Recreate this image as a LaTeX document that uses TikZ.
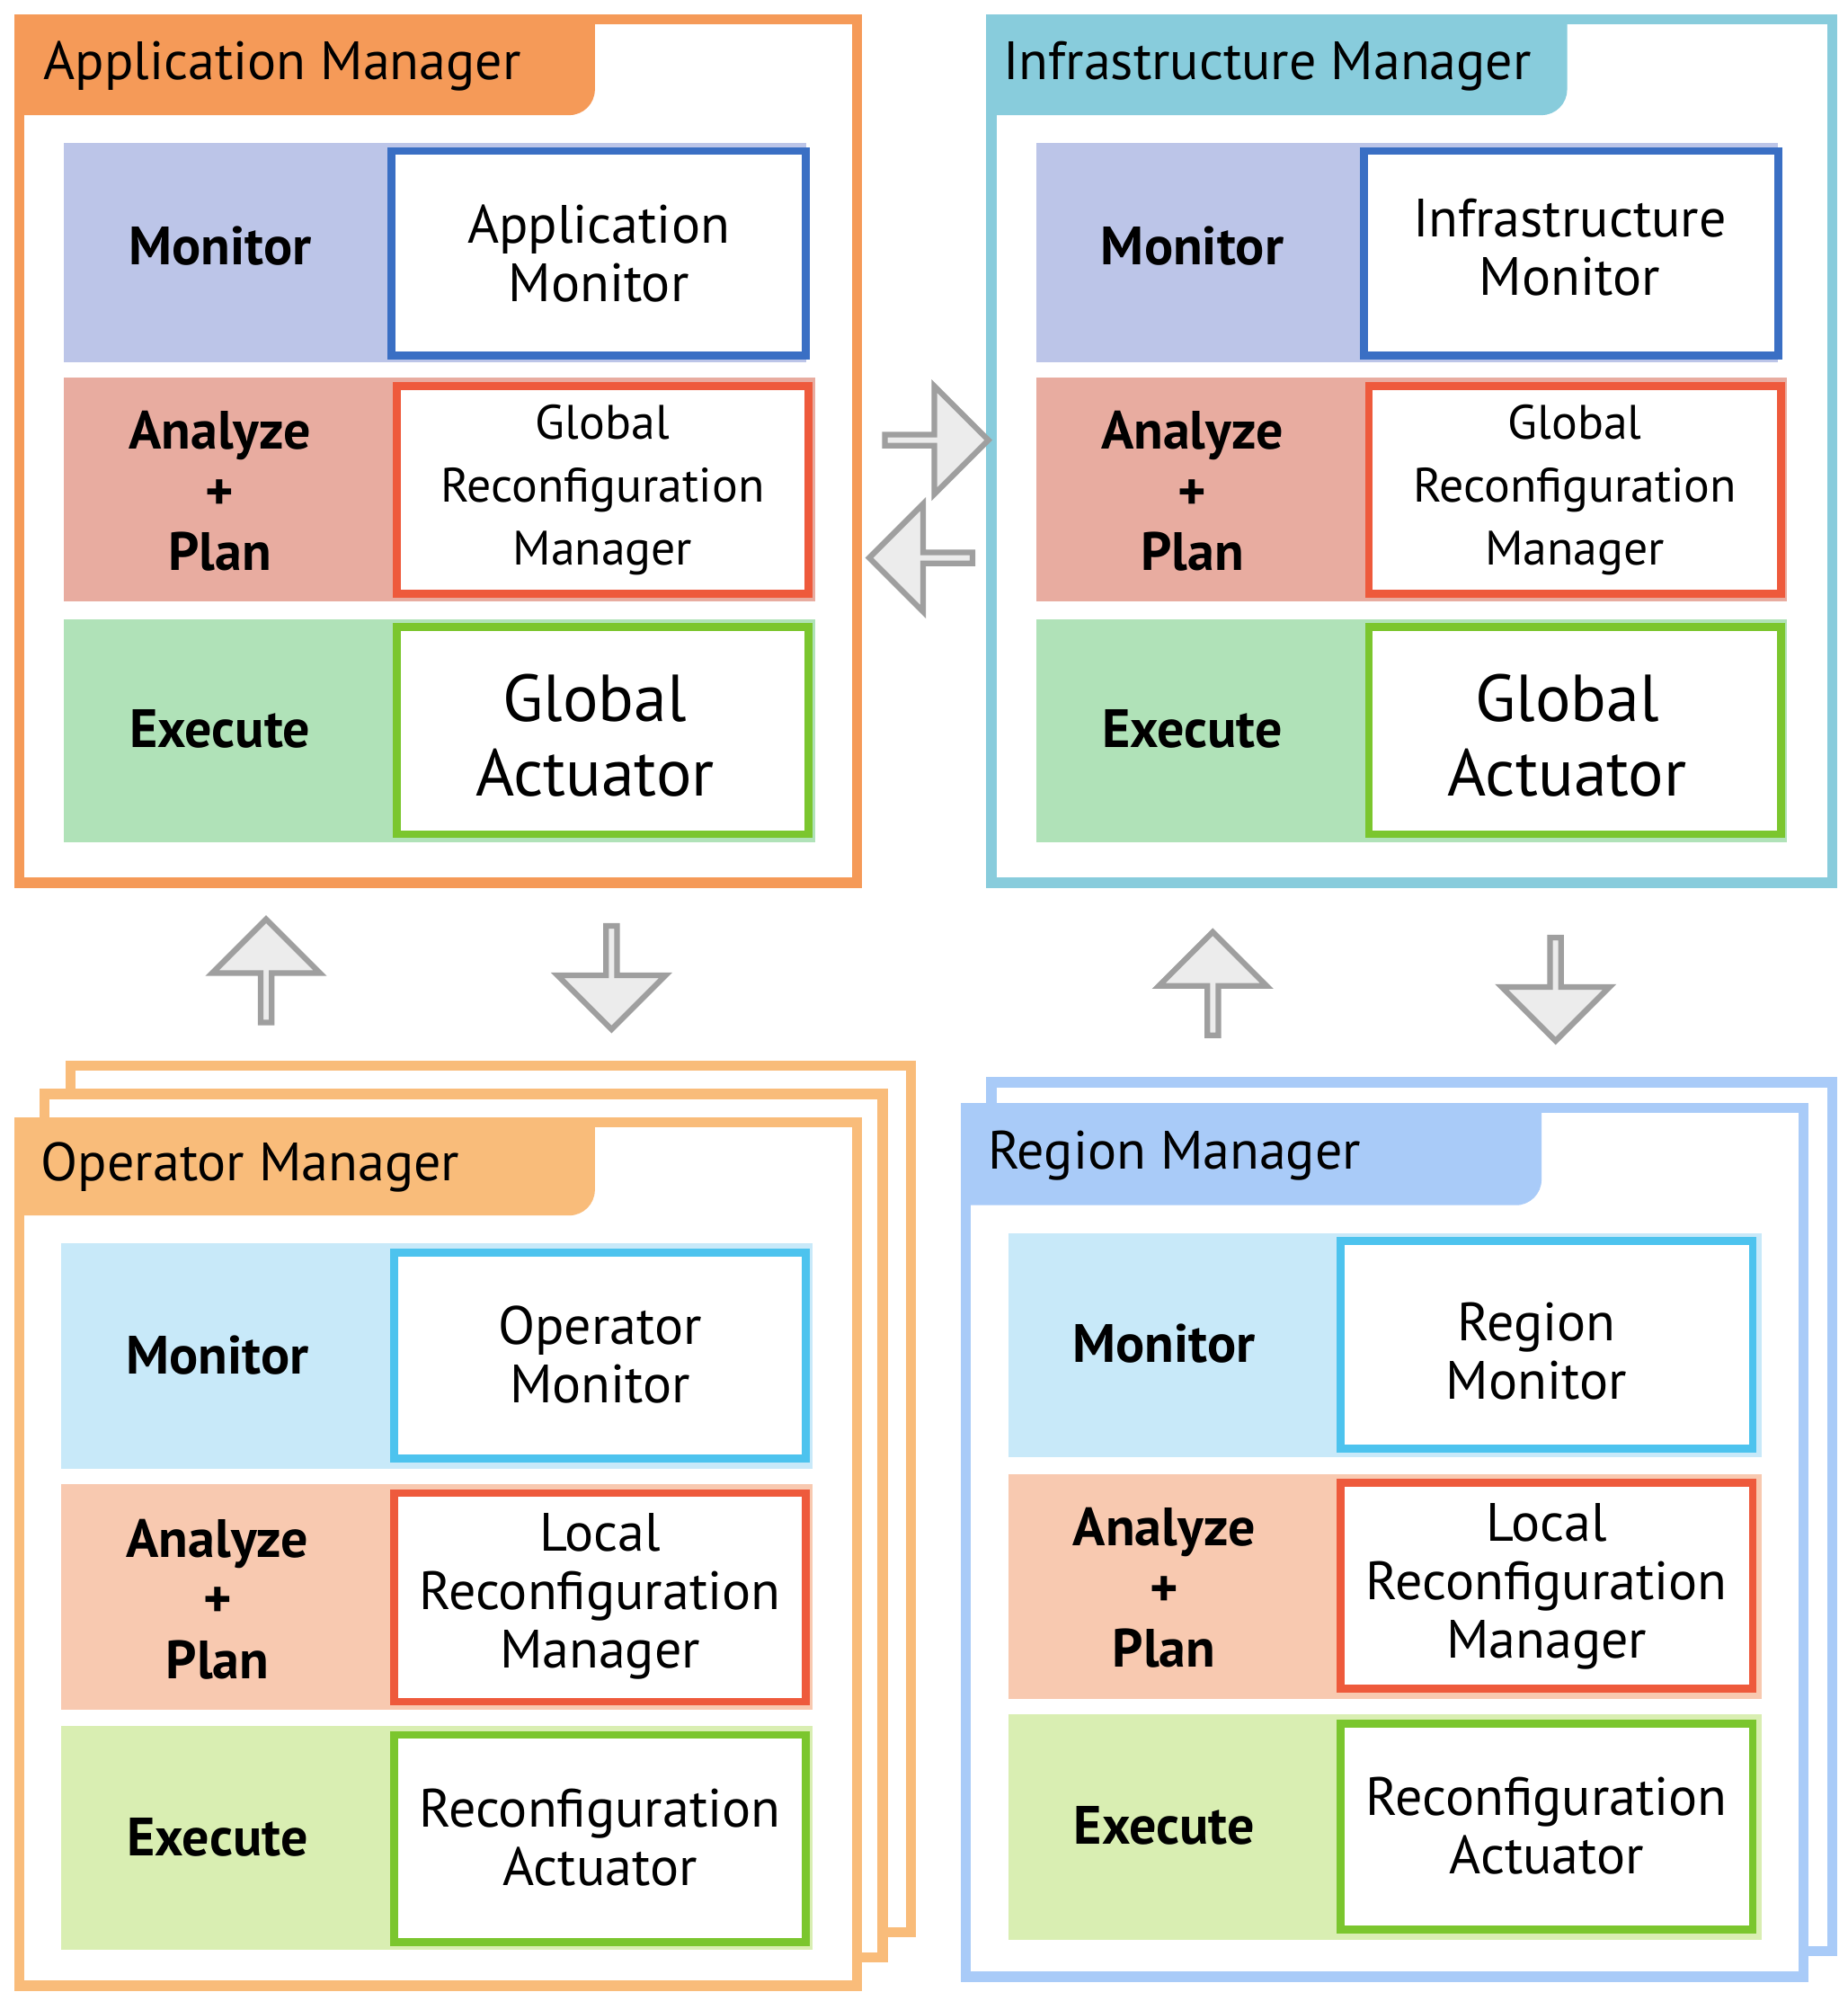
\documentclass[tikz,border=0pt]{standalone}
\usepackage{fontspec}
\setmainfont{PT Sans}
\usetikzlibrary{shapes.arrows}
\definecolor{appO}{HTML}{F59A58}
\definecolor{infC}{HTML}{88CCDC}
\definecolor{opO}{HTML}{F9BC7A}
\definecolor{regB}{HTML}{A9CBF8}
\definecolor{monA}{HTML}{BCC5E8}
\definecolor{anaA}{HTML}{E8ACA0}
\definecolor{exeA}{HTML}{B0E2B8}
\definecolor{monB}{HTML}{C8E9F9}
\definecolor{anaB}{HTML}{F8C9B0}
\definecolor{exeB}{HTML}{D9EEB2}
\definecolor{bBlue}{HTML}{3A6FC4}
\definecolor{bCyan}{HTML}{4DC3EE}
\definecolor{bRed}{HTML}{EE5A3C}
\definecolor{bGreen}{HTML}{7BC62E}
\tikzset{
 frame/.style={draw=#1,line width=4.5pt,fill=white},
 inbox/.style={draw=#1,line width=3.5pt,fill=white},
 lab/.style={font=\bfseries\fontsize{24}{27}\selectfont,align=center},
 txt/.style={font=\fontsize{24}{26}\selectfont,align=center},
 txts/.style={font=\fontsize{21.5}{28}\selectfont,align=center},
 txtb/.style={font=\fontsize{29.5}{33}\selectfont,align=center},
 ttl/.style={font=\fontsize{24}{27}\selectfont,anchor=west},
 barr/.style={single arrow,draw=gray!75,fill=gray!15,line width=2.5pt,minimum width=48pt,single arrow head extend=11pt,minimum height=46pt,inner sep=0pt}
}
\newcommand{\mgr}[5]{% x offset, y offset, band colors: mon ana exe
}
\begin{document}
\begin{tikzpicture}[x=0.02cm,y=-0.02cm]
\useasboundingbox (0,0) rectangle (1444,1564);
% ---------- Application Manager
\draw[frame=appO] (15,15) rectangle (670,690);
\fill[appO] (15,15) -- (465,15) -- (465,70) arc (0:90:20) -- (15,90) -- cycle;
\node[ttl] (t1) at (28,52) {Application Manager};
\fill[monA] (50,112) rectangle (630,283);
\fill[anaA] (50,295) rectangle (637,470);
\fill[exeA] (50,484) rectangle (637,658);
\node[lab] (m1) at (172,192) {Monitor};
\node[lab] (a1) at (172,384) {Analyze\\+\\Plan};
\node[lab] (e1) at (172,570) {Execute};
\draw[inbox=bBlue] (306,118) rectangle (630,278);
\node[txt] (b1) at (468,198) {Application\\Monitor};
\draw[inbox=bRed] (310,302) rectangle (632,464);
\node[txts] (b2) at (471,383) {Global\\Reconfiguration\\Manager};
\draw[inbox=bGreen] (310,490) rectangle (632,652);
\node[txtb] (b3) at (465,575) {Global\\Actuator};
% ---------- Infrastructure Manager
\draw[frame=infC] (775,15) rectangle (1432,690);
\fill[infC] (775,15) -- (1225,15) -- (1225,70) arc (0:90:20) -- (775,90) -- cycle;
\node[ttl] (t2) at (778,52) {Infrastructure Manager};
\fill[monA] (810,112) rectangle (1390,283);
\fill[anaA] (810,295) rectangle (1397,470);
\fill[exeA] (810,484) rectangle (1397,658);
\node[lab] (m2) at (932,192) {Monitor};
\node[lab] (a2) at (932,384) {Analyze\\+\\Plan};
\node[lab] (e2) at (932,570) {Execute};
\draw[inbox=bBlue] (1066,118) rectangle (1390,278);
\node[txt] (c1) at (1227,193) {Infrastructure\\Monitor};
\draw[inbox=bRed] (1070,302) rectangle (1392,464);
\node[txts] (c2) at (1231,383) {Global\\Reconfiguration\\Manager};
\draw[inbox=bGreen] (1070,490) rectangle (1392,652);
\node[txtb] (c3) at (1225,575) {Global\\Actuator};
% ---------- Operator Manager
\draw[frame=opO] (55,833) rectangle (712,1510);
\draw[frame=opO] (35,855) rectangle (690,1530);
\draw[frame=opO] (15,877) rectangle (670,1552);
\fill[opO] (15,877) -- (465,877) -- (465,930) arc (0:90:20) -- (15,950) -- cycle;
\node[ttl] (t3) at (26,912) {Operator Manager};
\fill[monB] (48,972) rectangle (635,1148);
\fill[anaB] (48,1160) rectangle (635,1336);
\fill[exeB] (48,1349) rectangle (635,1524);
\node[lab] (m3) at (170,1059) {Monitor};
\node[lab] (a3) at (170,1250) {Analyze\\+\\Plan};
\node[lab] (e3) at (170,1436) {Execute};
\draw[inbox=bCyan] (308,979) rectangle (630,1140);
\node[txt] (d1) at (469,1059) {Operator\\Monitor};
\draw[inbox=bRed] (308,1167) rectangle (630,1330);
\node[txt] (d2) at (469,1248) {Local\\Reconfiguration\\Manager};
\draw[inbox=bGreen] (308,1356) rectangle (630,1518);
\node[txt] (d3) at (469,1436) {Reconfiguration\\Actuator};
% ---------- Region Manager
\draw[frame=regB] (775,846) rectangle (1432,1525);
\draw[frame=regB] (755,866) rectangle (1410,1545);
\fill[regB] (755,866) -- (1205,866) -- (1205,922) arc (0:90:20) -- (755,942) -- cycle;
\node[ttl] (t4) at (766,903) {Region Manager};
\fill[monB] (788,964) rectangle (1377,1139);
\fill[anaB] (788,1152) rectangle (1377,1328);
\fill[exeB] (788,1340) rectangle (1377,1516);
\node[lab] (m4) at (910,1050) {Monitor};
\node[lab] (a4) at (910,1241) {Analyze\\+\\Plan};
\node[lab] (e4) at (910,1427) {Execute};
\draw[inbox=bCyan] (1048,970) rectangle (1370,1132);
\node[txt] (f1) at (1201,1056) {Region\\Monitor};
\draw[inbox=bRed] (1048,1159) rectangle (1370,1320);
\node[txt] (f2) at (1209,1240) {Local\\Reconfiguration\\Manager};
\draw[inbox=bGreen] (1048,1347) rectangle (1370,1508);
\node[txt] (f3) at (1209,1427) {Reconfiguration\\Actuator};
% ---------- arrows
\node[barr,shape border rotate=0] (ar1) at (730,344) {};
\node[barr,shape border rotate=180] (ar2) at (722,436) {};
\node[barr,shape border rotate=90] (ar3) at (208,761) {};
\node[barr,shape border rotate=270] (ar4) at (478,762) {};
\node[barr,shape border rotate=90] (ar5) at (948,771) {};
\node[barr,shape border rotate=270] (ar6) at (1216,771) {};
\end{tikzpicture}
\end{document}
